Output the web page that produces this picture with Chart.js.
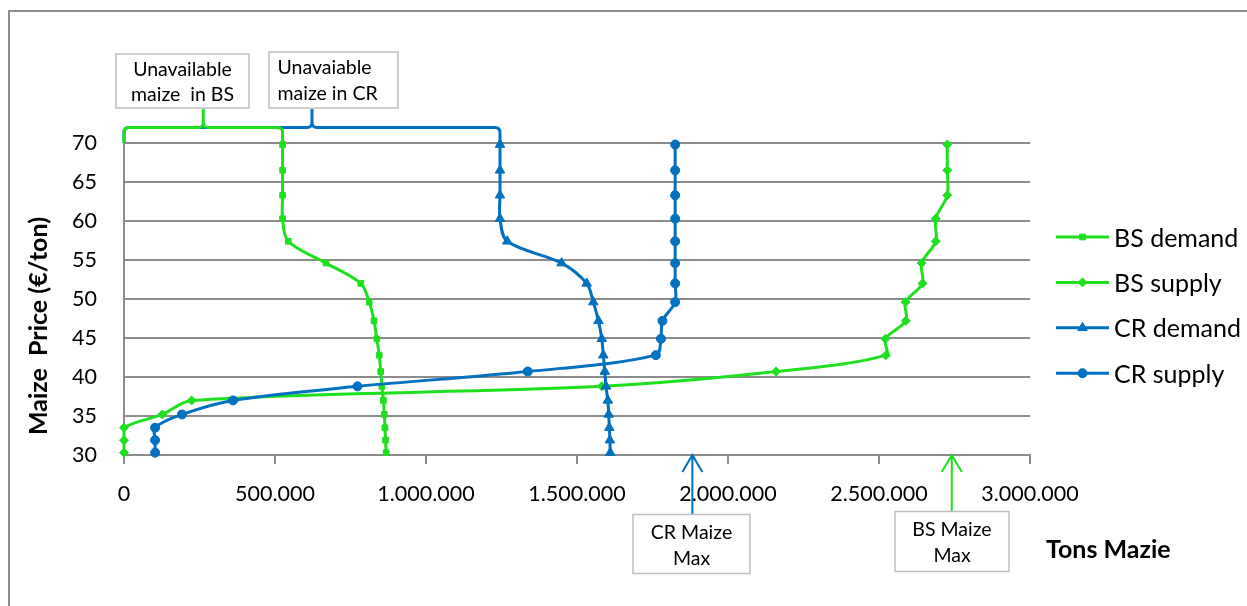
<!DOCTYPE html>
<html>
<head>
<meta charset="utf-8">
<title>Maize price vs tons</title>
<script src="https://cdn.jsdelivr.net/npm/chart.js@4.4.1/dist/chart.umd.min.js"></script>
<style>
  html, body { margin: 0; padding: 0; background: #ffffff; }
  #wrap { width: 1247px; height: 606px; position: relative; }
  canvas { display: block; }
</style>
</head>
<body>
<div id="wrap"><canvas id="chart" width="1247" height="606"></canvas></div>
<script>
// Price levels (€/ton) shared by all four curves
const prices = [30.3, 31.9, 33.5, 35.2, 37.0, 38.8, 40.7, 42.8, 44.9, 47.2, 49.6, 52.0, 54.6, 57.4, 60.3, 63.3, 66.5, 69.8];

// Tons of maize at each price level
const bsDemand = [868000, 866000, 864000, 862000, 859000, 854000, 850000, 845000, 837000, 828000, 812000, 784000, 669000, 544000, 525000, 525000, 525000, 525000];
const bsSupply = [0, 0, 0, 127000, 224000, 1582000, 2159000, 2523000, 2521000, 2589000, 2588000, 2644000, 2641000, 2688000, 2688000, 2726000, 2726000, 2726000];
const crDemand = [1610000, 1609000, 1607000, 1605000, 1602000, 1596000, 1592000, 1587000, 1582000, 1571000, 1554000, 1532000, 1449000, 1269000, 1245000, 1245000, 1245000, 1245000];
const crSupply = [103000, 103000, 103000, 192000, 361000, 773000, 1337000, 1761000, 1778000, 1783000, 1825000, 1825000, 1825000, 1825000, 1825000, 1825000, 1825000, 1825000];

const seriesNames = ['BS demand', 'BS supply', 'CR demand', 'CR supply'];

// Axis ticks
const xTickValues = [0, 500000, 1000000, 1500000, 2000000, 2500000, 3000000];
const xTickLabels = ['0', '500.000', '1.000.000', '1.500.000', '2.000.000', '2.500.000', '3.000.000'];
const yTickValues = [30, 35, 40, 45, 50, 55, 60, 65, 70];
const yTickLabels = ['30', '35', '40', '45', '50', '55', '60', '65', '70'];

// Maximum available maize per region (tons)
const crMaizeMax = 1882000;
const bsMaizeMax = 2741000;

// Level of the "unavailable" braces above the plot (€/ton)
const braceLevel = 72;

const FONT = 'Lato, "Open Sans", "DejaVu Sans", sans-serif';
const GREEN = '#1EE01E';
const BLUE = '#0070C0';
const GRID = '#8C8C8C';
const BOX = '#BFBFBF';

function series(label, xs, color, style, radius, order) {
  return {
    label,
    data: xs.map((v, i) => ({ x: v, y: prices[i] })),
    borderColor: color,
    backgroundColor: color,
    borderWidth: 3,
    pointStyle: style,
    pointRadius: radius,
    pointHoverRadius: radius,
    pointBorderWidth: 1,
    pointBackgroundColor: color,
    pointBorderColor: color,
    showLine: true,
    tension: 0.33,
    clip: false,
    order
  };
}

const datasets = [
  series(seriesNames[0], bsDemand, GREEN, 'rect', 4, 4),
  series(seriesNames[1], bsSupply, GREEN, 'rectRot', 4.5, 3),
  series(seriesNames[2], crDemand, BLUE, 'triangle', 5.5, 2),
  series(seriesNames[3], crSupply, BLUE, 'circle', 4.5, 1)
];

function textBox(ctx, x, y, w, h) {
  ctx.save();
  ctx.fillStyle = '#ffffff';
  ctx.fillRect(x, y, w, h);
  ctx.strokeStyle = BOX;
  ctx.lineWidth = 1.5;
  ctx.strokeRect(x, y, w, h);
  ctx.restore();
}

function brace(ctx, x0, x1, yb, yTop, yTip, color) {
  const mid = (x0 + x1) / 2;
  const r = 5;
  ctx.save();
  ctx.strokeStyle = color;
  ctx.lineWidth = 3;
  ctx.lineJoin = 'round';
  ctx.lineCap = 'butt';
  ctx.beginPath();
  ctx.moveTo(x0, yTop);
  ctx.lineTo(x0, yb + r);
  ctx.quadraticCurveTo(x0, yb, x0 + r, yb);
  ctx.lineTo(mid - r, yb);
  ctx.quadraticCurveTo(mid, yb, mid, yb - r);
  ctx.lineTo(mid, yTip);
  ctx.moveTo(mid, yb - r);
  ctx.quadraticCurveTo(mid, yb, mid + r, yb);
  ctx.lineTo(x1 - r, yb);
  ctx.quadraticCurveTo(x1, yb, x1, yb + r);
  ctx.lineTo(x1, yTop);
  ctx.stroke();
  ctx.restore();
}

function upArrow(ctx, x, yTip, yTail, color) {
  ctx.save();
  ctx.strokeStyle = color;
  ctx.lineWidth = 2;
  ctx.beginPath();
  ctx.moveTo(x, yTail);
  ctx.lineTo(x, yTip);
  ctx.moveTo(x - 10, yTip + 17);
  ctx.lineTo(x, yTip);
  ctx.lineTo(x + 10, yTip + 17);
  ctx.stroke();
  ctx.restore();
}

const frame = {
  id: 'frame',
  beforeDraw(chart) {
    const ctx = chart.ctx;
    ctx.save();
    ctx.fillStyle = '#ffffff';
    ctx.fillRect(0, 0, chart.width, chart.height);
    ctx.strokeStyle = GRID;
    ctx.lineWidth = 2;
    ctx.beginPath();
    ctx.moveTo(9, chart.height);
    ctx.lineTo(9, 11);
    ctx.lineTo(chart.width, 11);
    ctx.stroke();
    ctx.restore();
  }
};

const notes = {
  id: 'notes',
  afterDraw(chart) {
    const { ctx, scales: { x, y } } = chart;
    const yb = y.getPixelForValue(braceLevel);
    const yTop = y.getPixelForValue(70);
    const yBottom = y.getPixelForValue(30);

    // braces marking maize that is not available at any price
    brace(ctx, x.getPixelForValue(0), x.getPixelForValue(crDemand[crDemand.length - 1]), yb, yTop, 109, BLUE);
    brace(ctx, x.getPixelForValue(0), x.getPixelForValue(bsDemand[bsDemand.length - 1]), yb, yTop, 109, GREEN);

    ctx.save();
    ctx.fillStyle = '#000';
    ctx.font = '19.5px ' + FONT;

    textBox(ctx, 116, 54, 133, 54);
    ctx.textAlign = 'center';
    ctx.textBaseline = 'alphabetic';
    ctx.fillText('Unavailable', 182.5, 76);
    ctx.fillText('maize  in BS', 182.5, 101);

    textBox(ctx, 269, 52, 129, 56);
    ctx.textAlign = 'left';
    ctx.fillText('Unavaiable', 277.5, 74);
    ctx.fillText('maize in CR', 277.5, 100);

    // maximum available maize per region
    const crX = x.getPixelForValue(crMaizeMax);
    const bsX = x.getPixelForValue(bsMaizeMax);
    upArrow(ctx, crX, yBottom, 514, BLUE);
    upArrow(ctx, bsX, yBottom, 511, GREEN);

    textBox(ctx, 633, 514.5, 117, 59);
    textBox(ctx, 895, 511.5, 114, 60);
    ctx.fillStyle = '#000';
    ctx.textAlign = 'center';
    ctx.fillText('CR Maize', 691.5, 539);
    ctx.fillText('Max', 691.5, 565);
    ctx.fillText('BS Maize', 952, 536);
    ctx.fillText('Max', 952, 561.5);

    // axis titles
    ctx.font = 'bold 25px ' + FONT;
    ctx.textAlign = 'left';
    ctx.fillText('Tons Mazie', 1046, 558);
    ctx.translate(47, 326);
    ctx.rotate(-Math.PI / 2);
    ctx.textAlign = 'center';
    ctx.fillText('Maize  Price (€/ton)', 0, 0);
    ctx.restore();

    // legend
    ctx.save();
    chart.data.datasets.forEach((ds, i) => {
      const rowY = 237 + i * 45.4;
      ctx.strokeStyle = ds.borderColor;
      ctx.lineWidth = 3;
      ctx.beginPath();
      ctx.moveTo(1056, rowY);
      ctx.lineTo(1109, rowY);
      ctx.stroke();
      ctx.fillStyle = ds.pointBackgroundColor;
      ctx.strokeStyle = ds.pointBorderColor;
      ctx.lineWidth = ds.pointBorderWidth;
      Chart.helpers.drawPoint(ctx, { pointStyle: ds.pointStyle, radius: ds.pointRadius, rotation: 0, borderWidth: ds.pointBorderWidth }, 1082.5, rowY);
      ctx.fillStyle = '#000';
      ctx.font = '25px ' + FONT;
      ctx.textAlign = 'left';
      ctx.textBaseline = 'alphabetic';
      ctx.fillText(ds.label, 1114, rowY + 9.5);
    });
    ctx.restore();
  }
};

new Chart(document.getElementById('chart'), {
  type: 'scatter',
  data: { datasets },
  options: {
    responsive: false,
    devicePixelRatio: 1,
    animation: false,
    events: [],
    layout: { padding: { left: 0, top: 143, right: 217, bottom: 71 } },
    plugins: {
      legend: { display: false },
      tooltip: { enabled: false },
      title: { display: false }
    },
    scales: {
      x: {
        type: 'linear',
        min: 0,
        max: 3000000,
        afterBuildTicks: s => { s.ticks = xTickValues.map(v => ({ value: v })); },
        afterFit: s => { s.height = 80; },
        ticks: {
          callback: (v, i) => xTickLabels[i],
          font: { family: FONT, size: 21.5 },
          color: '#000',
          padding: 17,
          maxRotation: 0,
          autoSkip: false
        },
        grid: { drawOnChartArea: false, drawTicks: true, tickLength: 9, color: GRID, lineWidth: 2 },
        border: { display: true, color: GRID, width: 2 }
      },
      y: {
        type: 'linear',
        min: 30,
        max: 70,
        afterBuildTicks: s => { s.ticks = yTickValues.map(v => ({ value: v })); },
        afterFit: s => { s.width = 124; },
        ticks: {
          callback: (v, i) => yTickLabels[i],
          font: { family: FONT, size: 21.5 },
          color: '#000',
          padding: 27
        },
        grid: { drawTicks: false, color: GRID, lineWidth: 2 },
        border: { display: true, color: GRID, width: 2 }
      }
    }
  },
  plugins: [frame, notes]
});
</script>
</body>
</html>
